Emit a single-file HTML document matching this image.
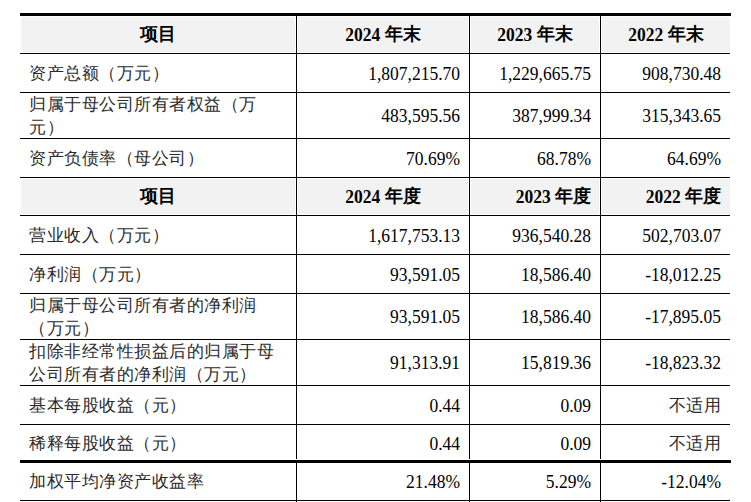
<!DOCTYPE html>
<html><head><meta charset="utf-8"><style>
html,body{margin:0;padding:0;background:#fff;width:751px;height:502px;overflow:hidden;}
body{position:relative;font-family:"Liberation Serif",serif;color:#000;}
.l{position:absolute;background:#000;}
.g{position:absolute;background:#f2f2f2;}
.t{position:absolute;white-space:pre;font-size:17.5px;line-height:23px;}
.h{font-weight:bold;text-align:center;}
.c{font-size:17px;letter-spacing:0.5px;color:#2b2b2b;}
.n{text-align:right;}
.d{transform:scaleY(1.09);transform-origin:50% 6px;}
.hd{display:inline-block;transform:scaleY(1.08);transform-origin:50% 13px;}
</style></head><body>

<div class="g" style="left:21px;top:17px;width:274px;height:35px"></div>
<div class="g" style="left:298px;top:17px;width:170px;height:35px"></div>
<div class="g" style="left:471px;top:17px;width:128px;height:35px"></div>
<div class="g" style="left:602px;top:17px;width:128px;height:35px"></div>
<div class="g" style="left:21px;top:179px;width:274px;height:35px"></div>
<div class="g" style="left:298px;top:179px;width:170px;height:35px"></div>
<div class="g" style="left:471px;top:179px;width:128px;height:35px"></div>
<div class="g" style="left:602px;top:179px;width:128px;height:35px"></div>
<div class="l" style="left:20px;top:13px;width:711px;height:3px"></div>
<div class="l" style="left:20px;top:53px;width:710px;height:1px"></div>
<div class="l" style="left:20px;top:92px;width:710px;height:1px"></div>
<div class="l" style="left:20px;top:138px;width:710px;height:1px"></div>
<div class="l" style="left:20px;top:177px;width:710px;height:1px"></div>
<div class="l" style="left:20px;top:215px;width:710px;height:1px"></div>
<div class="l" style="left:20px;top:254px;width:710px;height:1px"></div>
<div class="l" style="left:20px;top:293px;width:710px;height:1px"></div>
<div class="l" style="left:20px;top:339px;width:710px;height:1px"></div>
<div class="l" style="left:20px;top:385px;width:710px;height:1px"></div>
<div class="l" style="left:20px;top:424px;width:710px;height:1px"></div>
<div class="l" style="left:20px;top:460px;width:711px;height:3px"></div>
<div class="l" style="left:20px;top:500px;width:710px;height:1px"></div>
<div class="l" style="left:296px;top:16px;width:1px;height:443px"></div>
<div class="l" style="left:296px;top:463px;width:1px;height:39px"></div>
<div class="l" style="left:469px;top:16px;width:1px;height:443px"></div>
<div class="l" style="left:469px;top:463px;width:1px;height:39px"></div>
<div class="l" style="left:600px;top:16px;width:1px;height:443px"></div>
<div class="l" style="left:600px;top:463px;width:1px;height:39px"></div>
<div class="t h" style="left:20px;top:16px;width:276px;height:37px;line-height:37px">项目</div>
<div class="t h" style="left:297px;top:16px;width:172px;height:37px;line-height:37px"><span class="hd">2024</span> 年末</div>
<div class="t h" style="left:470px;top:16px;width:130px;height:37px;line-height:37px"><span class="hd">2023</span> 年末</div>
<div class="t h" style="left:601px;top:16px;width:130px;height:37px;line-height:37px"><span class="hd">2022</span> 年末</div>
<div class="t c" style="left:29px;top:61.5px">资产总额（万元）</div>
<div class="t n d" style="left:297px;top:61.5px;width:163px">1,807,215.70</div>
<div class="t n d" style="left:470px;top:61.5px;width:121px">1,229,665.75</div>
<div class="t n d" style="left:601px;top:61.5px;width:120px">908,730.48</div>
<div class="t c" style="left:29px;top:92.5px">归属于母公司所有者权益（万<br>元）</div>
<div class="t n d" style="left:297px;top:104.0px;width:163px">483,595.56</div>
<div class="t n d" style="left:470px;top:104.0px;width:121px">387,999.34</div>
<div class="t n d" style="left:601px;top:104.0px;width:120px">315,343.65</div>
<div class="t c" style="left:29px;top:146.5px">资产负债率（母公司）</div>
<div class="t n d" style="left:297px;top:146.5px;width:163px">70.69%</div>
<div class="t n d" style="left:470px;top:146.5px;width:121px">68.78%</div>
<div class="t n d" style="left:601px;top:146.5px;width:120px">64.69%</div>
<div class="t h" style="left:20px;top:178px;width:276px;height:37px;line-height:37px">项目</div>
<div class="t h" style="left:297px;top:178px;width:172px;height:37px;line-height:37px"><span class="hd">2024</span> 年度</div>
<div class="t h" style="text-align:right;left:470px;top:178px;width:121px;height:37px;line-height:37px"><span class="hd">2023</span> 年度</div>
<div class="t h" style="text-align:right;left:601px;top:178px;width:120px;height:37px;line-height:37px"><span class="hd">2022</span> 年度</div>
<div class="t c" style="left:29px;top:223.5px">营业收入（万元）</div>
<div class="t n d" style="left:297px;top:223.5px;width:163px">1,617,753.13</div>
<div class="t n d" style="left:470px;top:223.5px;width:121px">936,540.28</div>
<div class="t n d" style="left:601px;top:223.5px;width:120px">502,703.07</div>
<div class="t c" style="left:29px;top:262.5px">净利润（万元）</div>
<div class="t n d" style="left:297px;top:262.5px;width:163px">93,591.05</div>
<div class="t n d" style="left:470px;top:262.5px;width:121px">18,586.40</div>
<div class="t n d" style="left:601px;top:262.5px;width:120px">-18,012.25</div>
<div class="t c" style="left:29px;top:293.5px">归属于母公司所有者的净利润<br>（万元）</div>
<div class="t n d" style="left:297px;top:305.0px;width:163px">93,591.05</div>
<div class="t n d" style="left:470px;top:305.0px;width:121px">18,586.40</div>
<div class="t n d" style="left:601px;top:305.0px;width:120px">-17,895.05</div>
<div class="t c" style="left:29px;top:339.5px">扣除非经常性损益后的归属于母<br>公司所有者的净利润（万元）</div>
<div class="t n d" style="left:297px;top:351.0px;width:163px">91,313.91</div>
<div class="t n d" style="left:470px;top:351.0px;width:121px">15,819.36</div>
<div class="t n d" style="left:601px;top:351.0px;width:120px">-18,823.32</div>
<div class="t c" style="left:29px;top:393.5px">基本每股收益（元）</div>
<div class="t n d" style="left:297px;top:393.5px;width:163px">0.44</div>
<div class="t n d" style="left:470px;top:393.5px;width:121px">0.09</div>
<div class="t n c" style="left:601px;top:393.5px;width:120px">不适用</div>
<div class="t c" style="left:29px;top:432.0px">稀释每股收益（元）</div>
<div class="t n d" style="left:297px;top:432.0px;width:163px">0.44</div>
<div class="t n d" style="left:470px;top:432.0px;width:121px">0.09</div>
<div class="t n c" style="left:601px;top:432.0px;width:120px">不适用</div>
<div class="t c" style="left:29px;top:470.0px">加权平均净资产收益率</div>
<div class="t n d" style="left:297px;top:470.0px;width:163px">21.48%</div>
<div class="t n d" style="left:470px;top:470.0px;width:121px">5.29%</div>
<div class="t n d" style="left:601px;top:470.0px;width:120px">-12.04%</div>
</body></html>
